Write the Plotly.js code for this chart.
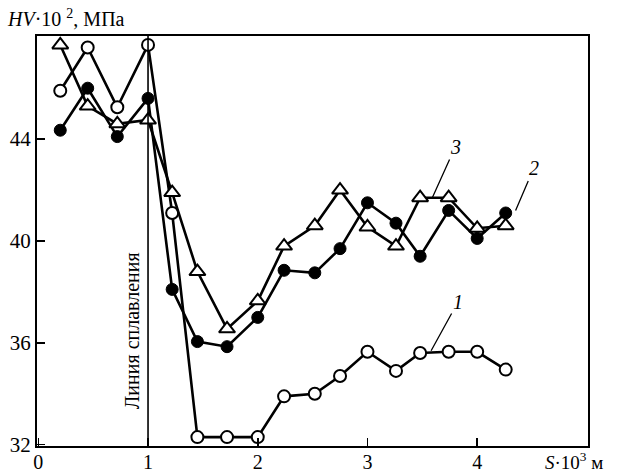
<!DOCTYPE html>
<html>
<head>
<meta charset="utf-8">
<script src="https://cdn.plot.ly/plotly-3.0.1.min.js"></script>
<style>html,body{margin:0;padding:0;background:#fff;}#chart{width:618px;height:474px;}</style>
</head>
<body>
<div id="chart"></div>
<script>
// Distance S·10^3 m
const xS = [0.2, 0.45, 0.72, 1.0, 1.22, 1.45, 1.72, 2.0, 2.24, 2.52, 2.75, 3.0, 3.26, 3.48, 3.74, 4.0, 4.26];
// Curve 1 (open circles)
const hv1 = [45.9, 47.6, 45.25, 47.7, 41.1, 32.3, 32.3, 32.3, 33.9, 34.0, 34.7, 35.65, 34.9, 35.6, 35.65, 35.65, 34.95];
// Curve 2 (filled circles)
const hv2 = [44.35, 46.0, 44.1, 45.6, 38.1, 36.05, 35.85, 37.0, 38.85, 38.75, 39.7, 41.5, 40.7, 39.4, 41.2, 40.1, 41.1];
// Curve 3 (open triangles)
const hv3 = [47.7, 45.3, 44.6, 44.75, 41.9, 38.8, 36.55, 37.65, 39.8, 40.6, 42.0, 40.55, 39.8, 41.7, 41.7, 40.5, 40.6];

const xTicks = [0, 1, 2, 3, 4];
const yTicks = [32, 36, 40, 44];
const fusionLineX = 1.0;
const curveLabels = ['1', '2', '3'];

const serif = 'Liberation Serif';

const lineStyle = {color: '#000', width: 2.6};
const traces = [
  {x: xS, y: hv1, mode: 'lines+markers', line: lineStyle,
   marker: {symbol: 'circle', size: 12, color: '#fff', line: {color: '#000', width: 2}}},
  {x: xS, y: hv2, mode: 'lines+markers', line: lineStyle,
   marker: {symbol: 'circle', size: 12, color: '#000', line: {color: '#000', width: 1}}},
  {x: xS, y: hv3, mode: 'lines+markers', line: lineStyle,
   marker: {symbol: 'triangle-up', size: 14, color: '#fff', line: {color: '#000', width: 2}}}
];

const layout = {
  width: 618, height: 474,
  margin: {l: 37, r: 30, t: 36, b: 28},
  paper_bgcolor: '#fff', plot_bgcolor: '#fff',
  showlegend: false,
  font: {family: serif, size: 20, color: '#000'},
  xaxis: {
    range: [-0.012, 5.01], tickvals: xTicks, ticktext: xTicks.map(String),
    ticks: 'inside', ticklen: 8, tickwidth: 1.5, tickcolor: '#000',
    ticklabelstandoff: -3,
    showline: true, linewidth: 2, linecolor: '#000', mirror: true,
    showgrid: false, zeroline: false,
    tickfont: {family: serif, size: 20, color: '#000'}
  },
  yaxis: {
    range: [31.95, 48.05], tickvals: yTicks, ticktext: yTicks.map(String),
    ticks: 'inside', ticklen: 8, tickwidth: 1.5, tickcolor: '#000',
    showline: true, linewidth: 2, linecolor: '#000', mirror: true,
    showgrid: false, zeroline: false,
    tickfont: {family: serif, size: 21, color: '#000'}
  },
  shapes: [
    {type: 'line', xref: 'x', yref: 'paper', x0: fusionLineX, x1: fusionLineX, y0: 0, y1: 1,
     line: {color: '#000', width: 1.6}}
  ],
  annotations: [
    {xref: 'paper', yref: 'paper', x: -0.058, y: 1.045, xanchor: 'left', yanchor: 'middle',
     text: '<i>HV</i>·10 <sup>2</sup>, МПа', showarrow: false, font: {family: serif, size: 20}},
    {xref: 'paper', yref: 'paper', x: 1.0, y: 0, xanchor: 'left', yanchor: 'middle', xshift: -45, yshift: -15,
     text: '<i>S</i>·10<sup>3</sup> м', showarrow: false, font: {family: serif, size: 19}},
    {xref: 'x', yref: 'paper', x: fusionLineX, y: 0.28, xanchor: 'right', yanchor: 'middle', xshift: -3,
     text: 'Линия сплавления', textangle: -90, showarrow: false, font: {family: serif, size: 20}},
    {xref: 'x', yref: 'y', x: 3.58, y: 35.69, text: '<i>' + curveLabels[0] + '</i>', showarrow: true,
     arrowhead: 0, arrowwidth: 1.3, arrowcolor: '#000', ax: 27, ay: -49, font: {family: serif, size: 20}},
    {xref: 'x', yref: 'y', x: 4.35, y: 41.2, text: '<i>' + curveLabels[1] + '</i>', showarrow: true,
     arrowhead: 0, arrowwidth: 1.3, arrowcolor: '#000', ax: 18, ay: -42, font: {family: serif, size: 20}},
    {xref: 'x', yref: 'y', x: 3.59, y: 41.69, text: '<i>' + curveLabels[2] + '</i>', showarrow: true,
     arrowhead: 0, arrowwidth: 1.3, arrowcolor: '#000', ax: 23, ay: -51, font: {family: serif, size: 20}}
  ]
};

Plotly.newPlot('chart', traces, layout, {staticPlot: true, displayModeBar: false});
</script>
</body>
</html>
